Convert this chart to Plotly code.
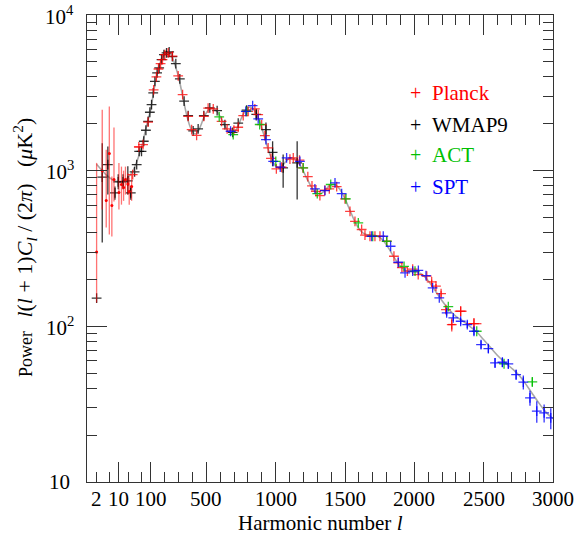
import numpy as np
import plotly.graph_objects as go

# ---------------- data ----------------
theory_l = [2, 3, 4, 6, 8, 11, 15, 20, 27, 35, 45, 55, 65, 80, 100, 120, 140, 160, 180, 200,
            220, 240, 260, 280, 300, 320, 340, 360, 380, 400, 420, 440, 460, 480, 500, 520,
            540, 560, 580, 600, 620, 640, 660, 680, 700, 720, 740, 760, 780, 800, 820, 840,
            860, 880, 900, 920, 940, 960, 980, 1000, 1020, 1040, 1060, 1080, 1100, 1120, 1140,
            1160, 1180, 1200, 1220, 1240, 1260, 1280, 1300, 1320, 1340, 1360, 1380, 1400, 1420,
            1440, 1460, 1480, 1500, 1520, 1540, 1560, 1580, 1600, 1620, 1640, 1660, 1680, 1700,
            1720, 1740, 1760, 1780, 1800, 1820, 1840, 1860, 1880, 1900, 1920, 1940, 1960, 1980,
            2000, 2020, 2040, 2060, 2080, 2100, 2150, 2200, 2250, 2300, 2350, 2400, 2450, 2500,
            2550, 2600, 2650, 2700, 2750, 2800, 2850, 2900, 2950, 3000]
theory_d = [1100, 1000, 940, 880, 855, 850, 870, 910, 990, 1120, 1300, 1500, 1750, 2080, 2500,
            3200, 4000, 4700, 5250, 5600, 5750, 5650, 5200, 4600, 4000, 3300, 2700, 2250, 1950,
            1780, 1720, 1780, 1950, 2170, 2350, 2480, 2520, 2480, 2380, 2220, 2050, 1900, 1790,
            1740, 1760, 1860, 2040, 2250, 2420, 2540, 2560, 2490, 2330, 2120, 1880, 1640, 1430,
            1260, 1140, 1070, 1045, 1060, 1110, 1165, 1200, 1210, 1190, 1140, 1070, 990, 910,
            840, 780, 740, 715, 710, 725, 755, 790, 810, 815, 800, 765, 715, 660, 600, 545, 495,
            455, 425, 405, 393, 388, 387, 386, 383, 377, 367, 352, 333, 312, 291, 272, 255, 243,
            234, 228, 225, 224, 223, 222, 219, 214, 206, 196, 170, 146, 128, 116, 108, 100, 92,
            82, 73, 65, 59, 54, 49, 43, 37, 32, 28, 25.5]

# Planck low-l multipoles (value, upper and lower end of error bar)
planck_low_l = [2, 3, 4, 5, 6, 7, 10, 12, 14, 16, 19, 21, 25]
planck_low_d = [300, 1000, 643, 1289, 597, 877, 723, 815, 780, 877, 820, 734, 790]
planck_low_hi = [1122, 2466, 1365, 2582, 916, 1893, 1122, 1062, 1000, 1062, 960, 904, 940]
planck_low_lo = [142, 563, 431, 389, 378, 633, 563, 605, 640, 702, 700, 605, 640]

# Planck binned
planck_l = [27, 42, 57, 82, 120, 140, 155, 170, 184, 201, 225, 256, 297, 329, 369, 394, 430,
            482, 513, 550, 610, 650, 699, 730, 766, 802, 850, 874, 899, 922, 946, 966, 1005,
            1043, 1103, 1127, 1172, 1197, 1232, 1262, 1290, 1319, 1355, 1387, 1440, 1500, 1536,
            1572, 1620, 1644, 1680, 1716, 1752, 1801, 1853, 1884, 1910, 1950, 1988, 2028, 2090,
            2125, 2156, 2193, 2228, 2270, 2334, 2430]
planck_d = [944, 1420, 1470, 2050, 3300, 4000, 4500, 4875, 5171, 5568, 5710, 5450, 4060, 3082,
            2235, 1836, 1686, 2235, 2520, 2497, 2076, 1856, 1818, 1900, 2259, 2407, 2497, 2292,
            1977, 1680, 1400, 1200, 1027, 1052, 1185, 1208, 1170, 1042, 915, 798, 737, 692, 750,
            765, 790, 659, 548, 473, 419, 385, 379, 379, 379, 352, 282, 256, 238, 226, 233, 215,
            210, 193, 181, 162, 128, 102.7, 125, 104]
planck_err = [0, 0, 0, 0, 0, 0, 0, 0, 0, 0, 0, 0, 0, 0, 0, 0, 0, 0, 0, 0, 0, 0, 0, 0, 0, 0, 0,
              0, 0, 0, 0, 0, 0, 0, 0, 0, 0, 0, 0, 0, 0, 0, 0, 0, 0, 0, 0, 0, 0, 0, 0, 0, 0, 0, 0,
              0, 0, 0, 0, 0, 0, 6, 6, 7, 7, 10, 9, 9]
planck_hw = [0, 12, 0, 0, 0, 0, 0, 0, 0, 0, 0, 0, 0, 0, 0, 0, 0, 0, 0, 0, 0, 0, 0, 0, 0, 0, 0,
             0, 0, 0, 0, 0, 0, 0, 0, 0, 0, 0, 0, 0, 0, 0, 0, 0, 0, 0, 0, 0, 0, 0, 0, 0, 0, 0, 0,
             0, 0, 0, 0, 0, 0, 0, 0, 0, 0, 28, 43, 54]

# WMAP9
wmap_l = [2, 3, 4.5, 7.5, 9.5, 13.5, 19, 23.5, 31, 36, 43, 51, 60, 70, 82, 93, 105, 117, 129,
          145, 160, 177, 194, 213, 232, 255, 280, 309, 340, 369, 405, 441, 482, 525, 578, 634,
          690, 730, 790, 860, 930, 978, 1054, 1155]
wmap_d = [152, 908, 1094, 720, 847, 847, 860, 720, 982, 1094, 1332, 1332, 1545, 1818, 2076,
          2372, 2657, 3160, 3750, 4247, 4571, 5171, 5568, 5710, 5795, 5400, 4875, 3887, 2800,
          2259, 1800, 1856, 2260, 2530, 2432, 1977, 1760, 2020, 2450, 2300, 1836, 1312, 1042,
          1122]
wmap_hi = [152, 1500, 1429, 790, 950, 950, 1067, 800, 982, 1094, 1332, 1332, 1545, 1818, 2076,
           2372, 2657, 3160, 3750, 4247, 4571, 5171, 5568, 5710, 5795, 5400, 4875, 3887, 2800,
           2259, 1800, 1856, 2260, 2530, 2432, 1977, 1760, 2020, 2600, 2500, 2037, 1545, 1268,
           1545]
wmap_lo = [152, 345, 702, 650, 760, 760, 702, 650, 982, 1094, 1332, 1332, 1545, 1818, 2076,
           2372, 2657, 3160, 3750, 4247, 4571, 5171, 5568, 5710, 5795, 5400, 4875, 3887, 2800,
           2259, 1800, 1856, 2260, 2530, 2432, 1977, 1760, 2020, 2300, 2100, 1585, 1067, 778,
           652]

# ACT
act_l = [593, 694, 790, 885, 1001, 1199, 1300, 1397, 1507, 1596, 1700, 1801, 1926, 2005, 2245,
         2450, 2647, 2851]
act_d = [2215, 1706, 2407, 1980, 1149, 1042, 713, 815, 659, 462, 379, 352, 243, 226, 134, 93,
         57.5, 44]
act_err = [0, 0, 0, 0, 0, 0, 0, 0, 0, 0, 0, 0, 0, 0, 0, 0, 0, 3]

# SPT
spt_l = [675, 785, 834, 874, 930, 982, 1033, 1079, 1175, 1283, 1355, 1428, 1476, 1692, 1776,
         1829, 1884, 1933, 1988, 2029, 2084, 2132, 2180, 2233, 2281, 2334, 2382, 2430, 2481,
         2534, 2582, 2635, 2678, 2734, 2786, 2834, 2883, 2936, 2984]
spt_d = [1792, 2407, 2618, 2151, 1584, 1149, 1055, 1208, 1149, 763, 745, 835, 713, 379, 379,
         327, 258, 220.6, 226, 229, 212, 176.6, 152.4, 122, 113.4, 107.8, 102.7, 93, 76.4, 72,
         58.3, 58.8, 57.4, 49, 43.8, 34.7, 28.5, 27.8, 25.8]
spt_err = [0, 0, 0, 0, 0, 0, 0, 0, 0, 0, 0, 0, 0, 0, 0, 0, 0, 0, 0, 0, 0, 0, 0, 5, 5, 5, 5,
           5.5, 4.7, 4.5, 4.2, 4, 4, 3.7, 4.5, 3.8, 4.5, 3.7, 4]

x_labels = [2, 10, 100, 500, 1000, 1500, 2000, 2500, 3000]
x_major = [10, 100, 500, 1000, 1500, 2000, 2500, 3000]
x_minor = [2, 5, 20, 50] + [v for v in range(200, 3000, 100) if v % 500 != 0]
y_major = [10, 100, 1000, 10000]
y_labels = ["10", "10<sup>2</sup>", "10<sup>3</sup>", "10<sup>4</sup>"]
y_minor = [m * 10 ** e for e in (1, 2, 3) for m in range(2, 10)]


# ------------- axis transform: log below l=100, linear above -------------
def f(l):
    l = np.asarray(l, dtype=float)
    return np.where(l >= 100, l, 100 + 100 * np.log(np.maximum(l, 1e-9) / 100))


def xerr(ls, hws):
    ls = np.asarray(ls, float)
    hws = np.asarray(hws, float)
    plus = f(ls + hws) - f(ls)
    minus = f(ls) - f(np.maximum(ls - hws, 1e-6))
    return plus, minus


FONT = "Liberation Serif"
RED = "rgba(255,0,0,0.75)"
BLACK = "rgba(0,0,0,0.8)"
GREEN = "rgba(0,190,0,0.85)"
BLUE = "rgba(0,0,255,0.8)"

fig = go.Figure()

fig.add_trace(go.Scatter(x=f(theory_l), y=theory_d, mode="lines",
                         line=dict(color="rgba(110,110,110,0.6)", width=1.6, shape="spline"),
                         hoverinfo="skip", showlegend=False))

# WMAP9
wd = np.array(wmap_d)
fig.add_trace(go.Scatter(
    x=f(wmap_l), y=wmap_d, mode="markers",
    marker=dict(symbol="cross-thin", size=7, line=dict(width=1.3, color=BLACK)),
    error_y=dict(type="data", symmetric=False, array=np.array(wmap_hi) - wd,
                 arrayminus=wd - np.array(wmap_lo), thickness=1.3, width=0, color=BLACK),
    showlegend=False))

# Planck low-l
pd_ = np.array(planck_low_d)
fig.add_trace(go.Scatter(
    x=f(planck_low_l), y=planck_low_d, mode="markers",
    marker=dict(symbol="circle", size=3, color="red"),
    error_y=dict(type="data", symmetric=False, array=np.array(planck_low_hi) - pd_,
                 arrayminus=pd_ - np.array(planck_low_lo), thickness=1.3, width=0,
                 color="rgba(255,0,0,0.55)"),
    showlegend=False))

# Planck binned
px_p, px_m = xerr(planck_l, planck_hw)
fig.add_trace(go.Scatter(
    x=f(planck_l), y=planck_d, mode="markers",
    marker=dict(symbol="cross-thin", size=7, line=dict(width=1.3, color=RED)),
    error_y=dict(type="data", array=planck_err, thickness=1.3, width=0, color=RED),
    error_x=dict(type="data", symmetric=False, array=px_p, arrayminus=px_m,
                 thickness=1.3, width=0, color=RED),
    showlegend=False))

# ACT
fig.add_trace(go.Scatter(
    x=f(act_l), y=act_d, mode="markers",
    marker=dict(symbol="cross-thin", size=7, line=dict(width=1.3, color=GREEN)),
    error_y=dict(type="data", array=act_err, thickness=1.3, width=0, color=GREEN),
    showlegend=False))

# SPT
fig.add_trace(go.Scatter(
    x=f(spt_l), y=spt_d, mode="markers",
    marker=dict(symbol="cross-thin", size=7, line=dict(width=1.3, color=BLUE)),
    error_y=dict(type="data", array=spt_err, thickness=1.3, width=0, color=BLUE),
    showlegend=False))

annotations = []
for v in x_labels:
    annotations.append(dict(x=float(f(v)), xref="x", y=0, yref="paper", yanchor="middle",
                            yshift=-16.5, text=str(v), showarrow=False,
                            font=dict(family=FONT, size=21, color="black")))
annotations.append(dict(x=0.5, xref="paper", y=0, yref="paper", yanchor="middle", yshift=-41,
                        text="Harmonic number <i>l</i>", showarrow=False,
                        font=dict(family=FONT, size=21, color="black")))
for v, t in zip(y_major, y_labels):
    annotations.append(dict(x=-0.059, xref="paper", xanchor="center", y=float(np.log10(v)),
                            yref="y", yanchor="middle", text=t, showarrow=False,
                            font=dict(family=FONT, size=21, color="black")))
M = "<span style='font-size:22px'>"
ytitle = ("Power\u00a0\u00a0\u00a0" + M + "<i>l</i>(<i>l</i>\u00a0+\u00a01)<i>C<sub>l</sub></i>\u00a0/\u00a0(2<i>\u03c0</i>)"
          "\u00a0\u00a0\u00a0(<i>\u03bc</i>K<sup>2</sup>)</span>")
annotations.append(dict(x=-0.134, xref="paper", y=0.502, yref="paper", textangle=-90,
                        text=ytitle, showarrow=False, xanchor="center", yanchor="middle",
                        font=dict(family=FONT, size=18, color="black")))

legend_items = [("Planck", "#ff0000", 0.833), ("WMAP9", "#000000", 0.7647),
                ("ACT", "#00c000", 0.7005), ("SPT", "#0000ff", 0.632)]
for name, col, yy in legend_items:
    annotations.append(dict(x=0.706, xref="paper", y=yy, yref="paper", xanchor="center",
                            yanchor="middle", text="+", showarrow=False,
                            font=dict(family=FONT, size=20, color=col)))
    annotations.append(dict(x=0.736, xref="paper", y=yy, yref="paper", xanchor="left",
                            yanchor="middle", text=name, showarrow=False,
                            font=dict(family=FONT, size=21, color=col)))

fig.update_layout(
    width=581, height=538,
    margin=dict(l=87, r=28, t=15, b=56),
    paper_bgcolor="white", plot_bgcolor="white",
    font=dict(family=FONT, size=20, color="black"),
    xaxis=dict(range=[float(f(1)), 3000], tickmode="array", tickvals=f(x_major).tolist(),
               showticklabels=False, ticks="inside", ticklen=20, tickwidth=1,
               tickcolor="#333", showline=True, linecolor="#333", linewidth=1,
               mirror="allticks", showgrid=False, zeroline=False,
               minor=dict(tickmode="array", tickvals=f(x_minor).tolist(), ticks="inside",
                          ticklen=10, tickwidth=1, tickcolor="#333", showgrid=False)),
    yaxis=dict(type="log", range=[1, 4], tickmode="array", tickvals=y_major,
               showticklabels=False, ticks="inside", ticklen=20, tickwidth=1,
               tickcolor="#333", showline=True, linecolor="#333", linewidth=1,
               mirror="allticks", showgrid=False, zeroline=False,
               minor=dict(tickmode="array", tickvals=y_minor, ticks="inside",
                          ticklen=10, tickwidth=1, tickcolor="#333", showgrid=False)),
    annotations=annotations,
    showlegend=False,
)

# remove the browser's default 8px page margin so the figure sits at the window origin
fig.write_html("out.html", config={"displayModeBar": False},
               post_script="document.body.style.margin='0px';")
